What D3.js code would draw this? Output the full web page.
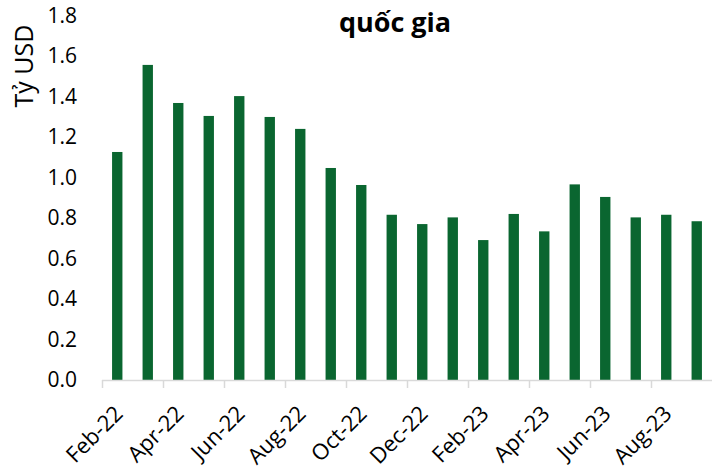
<!DOCTYPE html>
<html>
<head>
<meta charset="utf-8">
<script src="https://cdn.jsdelivr.net/npm/d3@7"></script>
<style>
  body { margin: 0; background: #fff; }
</style>
</head>
<body>
<div class="chart"></div>
<script>
(function () {
  var months = ['Feb-22', 'Mar-22', 'Apr-22', 'May-22', 'Jun-22', 'Jul-22', 'Aug-22', 'Sep-22', 'Oct-22', 'Nov-22',
    'Dec-22', 'Jan-23', 'Feb-23', 'Mar-23', 'Apr-23', 'May-23', 'Jun-23', 'Jul-23', 'Aug-23', 'Sep-23'];
  var values = [1.126, 1.556, 1.368, 1.304, 1.402, 1.299, 1.24, 1.047, 0.963, 0.816,
    0.77, 0.803, 0.691, 0.82, 0.734, 0.966, 0.904, 0.803, 0.816, 0.784];
  var yTicks = [0, 0.2, 0.4, 0.6, 0.8, 1.0, 1.2, 1.4, 1.6, 1.8];
  var title = 'quốc gia';
  var yLabel = 'Tỷ USD';
  var font = 'Open Sans';

  var svg = d3.select('.chart').append('svg')
    .attr('width', 712)
    .attr('height', 471)
    .attr('font-family', font);

  var x = d3.scaleBand()
    .domain(months)
    .range([102, 712])
    .paddingInner(0.66)
    .paddingOuter(0.33);
  var y = d3.scaleLinear()
    .domain([0, 1.8])
    .range([380, 15.5]);

  // y labels
  svg.append('g')
      .attr('class', 'axis axis--y')
      .attr('transform', 'translate(77,0)')
      .call(d3.axisLeft(y).tickValues(yTicks).tickSize(0).tickPadding(0).tickFormat(d3.format('.1f')))
      .attr('font-family', font)
      .attr('font-size', 21)
      .call(function (g) { g.select('.domain').remove(); })
    .selectAll('text')
      .attr('fill', '#000');

  // bars
  svg.append('g')
      .selectAll('.bar')
      .data(values)
    .enter().append('rect')
      .attr('class', 'bar')
      .attr('x', function (d, i) { return x(months[i]); })
      .attr('y', function (d) { return y(d); })
      .attr('width', x.bandwidth())
      .attr('height', function (d) { return y(0) - y(d); })
      .attr('fill', '#0a6630');

  // x axis
  var axis = svg.append('g').attr('class', 'axis axis--x');
  axis.append('line')
    .attr('x1', 102).attr('x2', 712)
    .attr('y1', y(0) + 0.5).attr('y2', y(0) + 0.5)
    .attr('stroke', '#d9d9d9').attr('stroke-width', 1.5);
  axis.selectAll('.tick')
    .data(months.filter(function (d, i) { return i % 2 === 0; }))
  .enter().append('line')
    .attr('class', 'tick')
    .attr('x1', function (d) { return Math.round(x(d) - x.step() * 0.33) + 0.5; })
    .attr('x2', function (d) { return Math.round(x(d) - x.step() * 0.33) + 0.5; })
    .attr('y1', y(0)).attr('y2', y(0) + 8)
    .attr('stroke', '#d9d9d9').attr('stroke-width', 1.5);
  axis.selectAll('.label')
    .data(months.filter(function (d, i) { return i % 2 === 0; }))
  .enter().append('text')
    .attr('class', 'label')
    .attr('transform', function (d) {
      var cx = x(d) + x.bandwidth() / 2 + 7;
      return 'translate(' + cx + ',' + 415 + ') rotate(-45)';
    })
    .attr('text-anchor', 'end')
    .attr('font-size', 22)
    .attr('fill', '#000')
    .text(function (d) { return d; });

  // title
  svg.append('text')
    .attr('x', 395)
    .attr('y', 32)
    .attr('text-anchor', 'middle')
    .attr('font-size', 27)
    .attr('font-weight', 'bold')
    .text(title);

  // y label
  svg.append('text')
    .attr('transform', 'rotate(-90)')
    .attr('x', -66)
    .attr('y', 33)
    .attr('text-anchor', 'middle')
    .attr('font-size', 25)
    .text(yLabel);
})();
</script>
</body>
</html>
